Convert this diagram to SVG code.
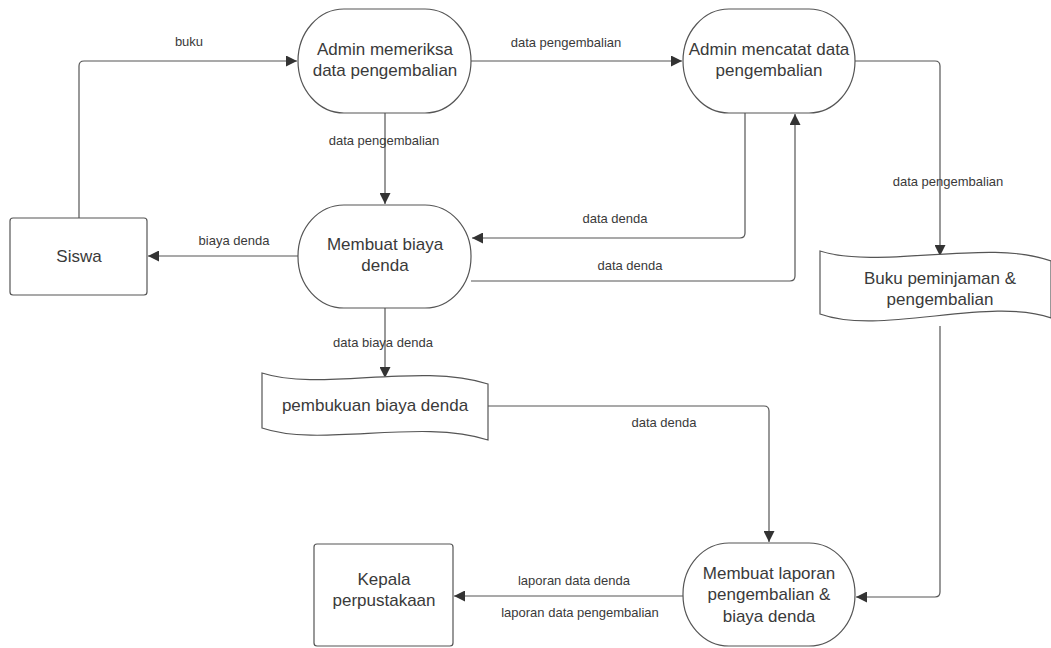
<svg xmlns="http://www.w3.org/2000/svg" width="1051" height="648" viewBox="0 0 1051 648">
<defs>
<marker id="ah" viewBox="0 0 10 10" refX="10" refY="5" markerWidth="11" markerHeight="11" markerUnits="userSpaceOnUse" orient="auto">
<path d="M0,0 L10,5 L0,10 Z" fill="#333"/>
</marker>
<style>
.shape{fill:#fff;stroke:#555;stroke-width:1.2}
.nt{font-family:"Liberation Sans",Arial,sans-serif;font-size:17px;fill:#3a3a3a;text-anchor:middle}
.lb{font-family:"Liberation Sans",Arial,sans-serif;font-size:13px;fill:#3a3a3a;text-anchor:middle}
.cn{fill:none;stroke:#555;stroke-width:1.2;marker-end:url(#ah)}
</style>
</defs>
<rect width="1051" height="648" fill="#fff"/>
<g id="connectors">
<path class="cn" d="M79,218 V66 Q79,61 84,61 H297"/>
<path class="cn" d="M471,61 H682"/>
<path class="cn" d="M385,113 V204"/>
<path class="cn" d="M745,113 V233 Q745,238 740,238 H472"/>
<path class="cn" d="M471,281 H790 Q795,281 795,276 V114"/>
<path class="cn" d="M855,61 H935 Q940,61 940,66 V256"/>
<path class="cn" d="M298,256 H148"/>
<path class="cn" d="M385,308 V378"/>
<path class="cn" d="M488,406 H764 Q769,406 769,411 V542"/>
<path class="cn" d="M940,326 V592 Q940,597 935,597 H856"/>
<path class="cn" d="M683,596 H454"/>
</g>
<g id="labels">
<text class="lb" x="189" y="46">buku</text>
<text class="lb" x="566" y="47">data pengembalian</text>
<text class="lb" x="384" y="145">data pengembalian</text>
<text class="lb" x="615" y="223">data denda</text>
<text class="lb" x="630" y="270">data denda</text>
<text class="lb" x="948" y="186">data pengembalian</text>
<text class="lb" x="234" y="245">biaya denda</text>
<text class="lb" x="383" y="347">data biaya denda</text>
<text class="lb" x="664" y="427">data denda</text>
<text class="lb" x="574" y="585">laporan data denda</text>
<text class="lb" x="580" y="617">laporan data pengembalian</text>
</g>
<g id="admin-memeriksa">
<rect class="shape" x="298" y="9" width="173" height="104" rx="46" ry="52"/>
<text class="nt" x="385" y="55">Admin memeriksa</text>
<text class="nt" x="385" y="76">data pengembalian</text>
</g>
<g id="admin-mencatat">
<rect class="shape" x="683" y="9" width="172" height="104" rx="46" ry="52"/>
<text class="nt" x="769" y="55">Admin mencatat data</text>
<text class="nt" x="769" y="76">pengembalian</text>
</g>
<g id="siswa">
<rect class="shape" x="10" y="218" width="137" height="77" rx="3"/>
<text class="nt" x="79" y="262">Siswa</text>
</g>
<g id="membuat-biaya-denda">
<rect class="shape" x="298" y="205" width="173" height="103" rx="46" ry="51"/>
<text class="nt" x="385" y="250">Membuat biaya</text>
<text class="nt" x="385" y="271">denda</text>
</g>
<g id="buku-peminjaman">
<path class="shape" d="M820,251 C880,270 990,238 1051,261 V318 C990,296 880,336 820,314 Z"/>
<text class="nt" x="940" y="284">Buku peminjaman &amp;</text>
<text class="nt" x="940" y="305">pengembalian</text>
</g>
<g id="pembukuan-biaya-denda">
<path class="shape" d="M262,373 C320,392 420,362 488,384 V440 C420,418 320,448 262,428 Z"/>
<text class="nt" x="375" y="411">pembukuan biaya denda</text>
</g>
<g id="kepala-perpustakaan">
<rect class="shape" x="314" y="544" width="139" height="102" rx="3"/>
<text class="nt" x="384" y="585">Kepala</text>
<text class="nt" x="384" y="606">perpustakaan</text>
</g>
<g id="membuat-laporan">
<rect class="shape" x="683" y="543" width="172" height="103" rx="46" ry="51"/>
<text class="nt" x="769" y="579">Membuat laporan</text>
<text class="nt" x="769" y="600">pengembalian &amp;</text>
<text class="nt" x="769" y="622">biaya denda</text>
</g>
</svg>
